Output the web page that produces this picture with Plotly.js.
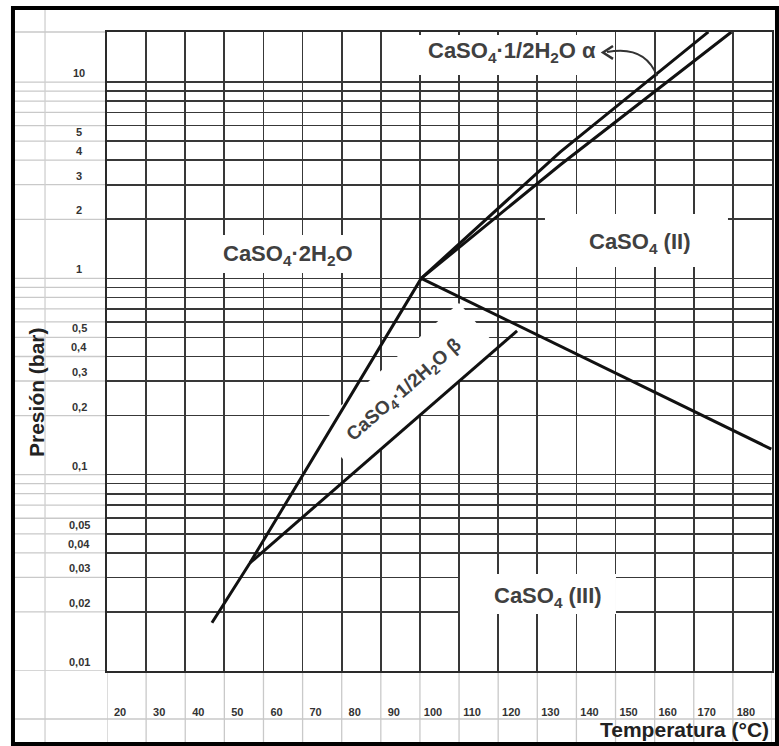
<!DOCTYPE html>
<html><head><meta charset="utf-8">
<script src="https://cdn.plot.ly/plotly-3.0.1.min.js"></script>
<style>html,body{margin:0;padding:0;background:#fff}#chart{width:779px;height:746px}</style>
</head><body><div id="chart"></div>
<script>
// ---------- data ----------
// Temperatures in °C, pressures in bar
const gypsumT = [43.5, 53.2, 97];
const gypsumP = [0.0176, 0.0355, 1.0];
const betaT = [53.2, 121.5];
const betaP = [0.0355, 0.54];
const alphaUpperT = [97, 132.5, 170.4];
const alphaUpperP = [1.0, 4.40, 18.0];
const alphaLowerT = [97, 132.5, 176.3];
const alphaLowerP = [1.0, 3.78, 18.0];
const anhydriteT = [97, 136.9, 186.5];
const anhydriteP = [1.0, 0.41, 0.135];

const xTickVals = [20, 30, 40, 50, 60, 70, 80, 90, 100, 110, 120, 130, 140, 150, 160, 170, 180];
const xTickText = ['20', '30', '40', '50', '60', '70', '80', '90', '100', '110', '120', '130', '140', '150', '160', '170', '180'];
const xGridVals = [16.67, 26.67, 36.67, 46.67, 56.67, 66.67, 76.67, 86.67, 96.67, 106.67, 116.67, 126.67, 136.67, 146.67, 156.67, 166.67, 176.67, 186.67];
const yGridVals = [0.01, 0.02, 0.03, 0.04, 0.05, 0.06, 0.07, 0.08, 0.09,
                   0.1, 0.2, 0.3, 0.4, 0.5, 0.6, 0.7, 0.8, 0.9,
                   1, 2, 3, 4, 5, 6, 7, 8, 9, 10];
const yLabelVals = [10, 5, 4, 3, 2, 1, 0.5, 0.4, 0.3, 0.2, 0.1, 0.05, 0.04, 0.03, 0.02, 0.01];
const yLabelText = ['10', '5', '4', '3', '2', '1', '0,5', '0,4', '0,3', '0,2', '0,1', '0,05', '0,04', '0,03', '0,02', '0,01'];

// ---------- styling ----------
const FONT = 'Liberation Sans, Arial, sans-serif';
const XR = [16.67, 186.67];
const YR = [-2, 1.255];
const gridCol = '#383838';
const labelFont = {family: FONT, size: 22, color: '#404040', weight: 'bold'};

function tr(x, y) {
  return {x: x, y: y, type: 'scatter', mode: 'lines',
    line: {color: '#111', width: 3},
    hoverinfo: 'skip', showlegend: false};
}
const data = [
  tr(gypsumT, gypsumP),
  tr(betaT, betaP),
  tr(alphaUpperT, alphaUpperP),
  tr(alphaLowerT, alphaLowerP),
  tr(anhydriteT, anhydriteP)
];

// fraction of the plot area -> axis value (used only for decoration boxes)
const fx = f => XR[0] + f * (XR[1] - XR[0]);
const fy = f => Math.pow(10, YR[0] + f * (YR[1] - YR[0]));

const shapes = [];
// faint scan-table lines in the margins
yGridVals.forEach(v => shapes.push({type: 'line', xref: 'paper', yref: 'y', x0: -0.14, x1: 0, y0: v, y1: v,
  line: {color: '#c9c9c9', width: 1.3}, layer: 'below'}));
xGridVals.forEach(v => shapes.push({type: 'line', xref: 'x', yref: 'paper', x0: v, x1: v, y0: -0.114, y1: 0,
  line: {color: '#c9c9c9', width: 1.3}, layer: 'below'}));
shapes.push({type: 'line', xref: 'paper', yref: 'paper', x0: -0.0932, x1: -0.0932, y0: -0.114, y1: 1.0376,
  line: {color: '#cfcfcf', width: 1.3}, layer: 'below'});
shapes.push({type: 'line', xref: 'paper', yref: 'paper', x0: -0.14, x1: 1.0075, y0: -0.0751, y1: -0.0751,
  line: {color: '#c9c9c9', width: 1.5}, layer: 'below'});
shapes.push({type: 'line', xref: 'paper', yref: 'paper', x0: -0.14, x1: 0, y0: 1, y1: 1,
  line: {color: '#c9c9c9', width: 1.3}, layer: 'below'});
// white boxes that hide the grid behind the region labels (under the curves)
function box(x0, x1, y0, y1) {
  return {type: 'rect', xref: 'x', yref: 'y', x0: fx(x0), x1: fx(x1), y0: fy(y0), y1: fy(y1),
    fillcolor: '#fff', line: {width: 0}, layer: 'between'};
}
shapes.push(box(0.1188, 0.4105, 0.6228, 0.6823));
shapes.push(box(0.4180, 0.7594, 0.9327, 0.9953));
shapes.push(box(0.6586, 0.9338, 0.6322, 0.7152));
shapes.push(box(0.5308, 0.7654, 0.0892, 0.1518));
const rot = [[0.5886, 0.5049], [0.5293, 0.5759], [0.3137, 0.3809], [0.3729, 0.3099]];
shapes.push({type: 'path', xref: 'x', yref: 'y',
  path: 'M ' + rot.map(p => fx(p[0]) + ',' + fy(p[1])).join(' L ') + ' Z',
  fillcolor: '#fff', line: {width: 0}, layer: 'between'});
// curved arrow for the alpha label
shapes.push({type: 'path', xref: 'paper', yref: 'paper',
  path: 'M 0.8271 0.9311 Q 0.8090 0.9800 0.7519 0.9687',
  line: {color: '#333', width: 2}, layer: 'above'});
shapes.push({type: 'path', xref: 'paper', yref: 'paper',
  path: 'M 0.7609 0.9780 L 0.7459 0.9680 L 0.7609 0.9580',
  line: {color: '#333', width: 2.5}, layer: 'above'});
// outer frame
shapes.push({type: 'rect', xref: 'paper', yref: 'paper', x0: -0.1414, x1: 1.0075, y0: -0.1142, y1: 1.0376,
  line: {color: '#000', width: 4}, fillcolor: 'rgba(0,0,0,0)', layer: 'above'});

const annotations = [];
yLabelVals.forEach((v, i) => annotations.push({xref: 'paper', yref: 'y', x: -0.0421, y: Math.log10(v),
  text: yLabelText[i], showarrow: false, xanchor: 'center', yanchor: 'middle', yshift: 9,
  font: {family: FONT, size: 11, color: '#333', weight: 'bold'}}));
function lab(text, x, y, extra) {
  return Object.assign({xref: 'paper', yref: 'paper', x: x, y: y, text: text, showarrow: false,
    xanchor: 'center', yanchor: 'middle', font: labelFont}, extra || {});
}
annotations.push(lab('CaSO<sub>4</sub>·2H<sub>2</sub>O', 0.2722, 0.6510));
annotations.push(lab('CaSO<sub>4</sub>·1/2H<sub>2</sub>O α', 0.6090, 0.9687));
annotations.push(lab('CaSO<sub>4</sub> (II)', 0.8000, 0.6698));
annotations.push(lab('CaSO<sub>4</sub> (III)', 0.6632, 0.1158));
annotations.push(lab('CaSO<sub>4</sub>·1/2H<sub>2</sub>O β', 0.4481, 0.4397,
  {textangle: -41, font: {family: FONT, size: 19, color: '#404040', weight: 'bold'}}));
annotations.push(lab('Presión (bar)', -0.1068, 0.4366, {textangle: -90,
  font: {family: FONT, size: 21, color: '#222', weight: 'bold'}}));
annotations.push(lab('Temperatura (°C)', 0.9985, -0.0920, {xanchor: 'right',
  font: {family: FONT, size: 21, color: '#222', weight: 'bold'}}));

const layout = {
  width: 779, height: 746,
  margin: {l: 107, r: 7, t: 32, b: 75},
  paper_bgcolor: '#fff', plot_bgcolor: '#fff',
  showlegend: false,
  xaxis: {
    range: XR, tickmode: 'array', tickvals: xTickVals, ticktext: xTickText,
    showgrid: false, zeroline: false, ticks: '', ticklabelstandoff: 30,
    showline: true, mirror: true, linecolor: '#2a2a2a', linewidth: 2,
    tickfont: {family: FONT, size: 11, color: '#333', weight: 'bold'},
    minor: {tickmode: 'array', tickvals: xGridVals, showgrid: true, gridcolor: gridCol, gridwidth: 1.8, ticks: ''}
  },
  yaxis: {
    type: 'log', range: YR, tickmode: 'array', tickvals: yGridVals,
    showticklabels: false, showgrid: true, gridcolor: gridCol, gridwidth: 1.6, ticks: '', zeroline: false,
    showline: true, mirror: true, linecolor: '#2a2a2a', linewidth: 2
  },
  shapes: shapes,
  annotations: annotations
};

Plotly.newPlot('chart', data, layout, {displayModeBar: false, staticPlot: true});
</script>
</body></html>
